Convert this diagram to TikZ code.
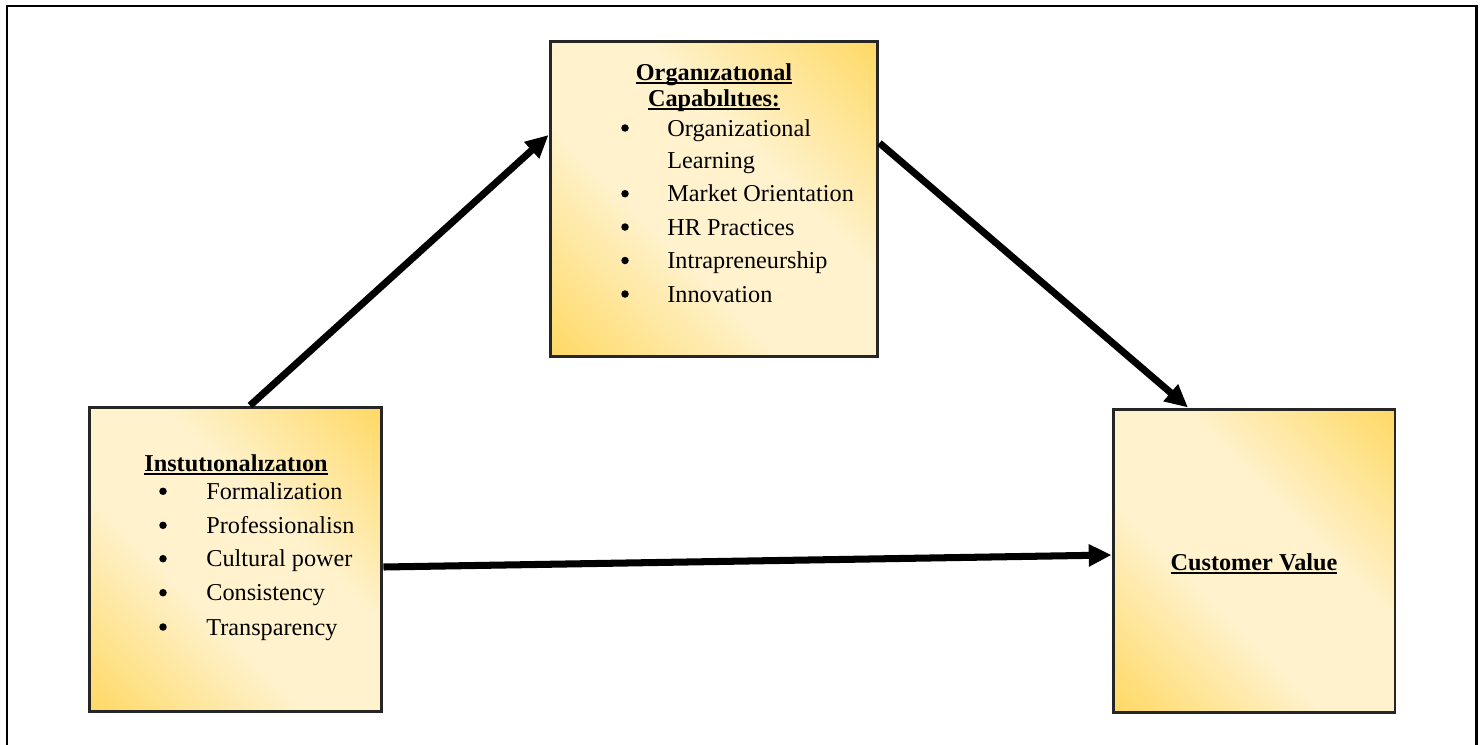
\documentclass[tikz,border=0pt]{standalone}
\usepackage{fontspec}
\setmainfont{Liberation Serif}
\usetikzlibrary{arrows.meta,calc}
\definecolor{gold}{RGB}{255,217,102}
\definecolor{cream}{RGB}{255,242,204}
\pgfdeclarehorizontalshading{goldband}{100bp}{color(0bp)=(gold); color(15bp)=(gold); color(40bp)=(cream); color(60bp)=(cream); color(85bp)=(gold); color(100bp)=(gold)}
\newcommand\uln[1]{\setbox0\hbox{#1}\rlap{\rule[-2pt]{\wd0}{1.1pt}}\box0}

\begin{document}
\begin{tikzpicture}[x=0.02cm,y=-0.02cm,
  box/.style={rectangle,draw=black!85,line width=1.7pt,shading=goldband,shading angle=45,inner sep=0pt},
  txt/.style={anchor=base west,inner sep=0pt,font=\fontsize{13.8}{19}\selectfont},
  head/.style={anchor=base,inner sep=0pt,font=\fontsize{13.8}{19}\selectfont\bfseries},
  dot/.style={circle,fill=black,inner sep=0pt,minimum size=0.15cm},
  link/.style={line width=4pt,-{Triangle[length=13pt,width=12pt]}}]
\useasboundingbox (0,0) rectangle (1483,744);
% outer frame
\draw[line width=1.7pt] (7,760) -- (7,6) -- (1476,6) -- (1476,760);

% boxes
\node[box,minimum width=6.56cm,minimum height=6.32cm] (org) at (714,199) {};
\node[box,minimum width=5.86cm,minimum height=6.1cm] (inst) at (235.5,559.5) {};
\node[box,minimum width=5.64cm,minimum height=6.08cm] (cv) at (1254,561) {};

% capabilities
\path
(714,80.7) node[head] (orgA) {\uln{Organızatıonal}}
(714,106) node[head] (orgB) {\uln{Capabılıtıes:}}
(625,128) node[dot] (orgD1) {}
(667,136) node[txt] (orgI1) {Organizational}
(667,168) node[txt] (orgI1b) {Learning}
(625,193.7) node[dot] (orgD2) {}
(667,201.7) node[txt] (orgI2) {Market Orientation}
(625,227) node[dot] (orgD3) {}
(667,235) node[txt] (orgI3) {HR Practices}
(625,260.5) node[dot] (orgD4) {}
(667,268.5) node[txt] (orgI4) {Intrapreneurship}
(625,294) node[dot] (orgD5) {}
(667,302) node[txt] (orgI5) {Innovation}
;

% institutionalization
\path
(236,471.7) node[head] (instA) {\uln{Instutıonalızatıon}}
(163,491.3) node[dot] (instD1) {}
(206,499.3) node[txt] (instI1) {Formalization}
(163,525.3) node[dot] (instD2) {}
(206,533.3) node[txt] (instI2) {Professionalisn}
(163,558.7) node[dot] (instD3) {}
(206,566.7) node[txt] (instI3) {Cultural power}
(163,592.7) node[dot] (instD4) {}
(206,600.7) node[txt] (instI4) {Consistency}
(163,627) node[dot] (instD5) {}
(206,635) node[txt] (instI5) {Transparency}
;

% customer value
\node[head] (cvA) at (1254,570) {\uln{Customer Value}};

% arrows
\draw[link] ($(inst.north)+(14.5,0)$) -- ($(org.west)+(0,-64)$);
\draw[link] ($(org.east)+(0,-56)$) -- ($(cv.north)+(-66,0)$);
\draw[link] ($(inst.east)+(0,7.5)$) -- ($(cv.west)+(0,-6)$);
\end{tikzpicture}
\end{document}
